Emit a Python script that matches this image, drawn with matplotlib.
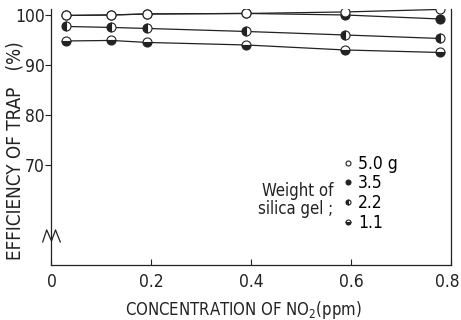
import matplotlib
matplotlib.use("Agg")
import matplotlib.pyplot as plt
from matplotlib.transforms import blended_transform_factory, ScaledTranslation

# ---- data ----
conc = [0.030, 0.120, 0.192, 0.389, 0.587, 0.777]
eff_50 = [99.9, 100.0, 100.2, 100.3, 100.6, 101.1]
eff_35 = [99.9, 100.0, 100.2, 100.3, 100.0, 99.2]
eff_22 = [97.7, 97.5, 97.3, 96.7, 96.0, 95.3]
eff_11 = [94.8, 94.9, 94.5, 94.0, 93.0, 92.5]
series_labels = ["5.0 g", "3.5", "2.2", "1.1"]
xticks = [0, 0.2, 0.4, 0.6, 0.8]
xticklabels = ["0", "0.2", "0.4", "0.6", "0.8"]
yticks = [70, 80, 90, 100]
yticklabels = ["70", "80", "90", "100"]

plt.rcParams['font.family'] = ['DejaVu Sans']
plt.rcParams['font.stretch'] = 'condensed'

fig = plt.figure(figsize=(4.61, 3.20), dpi=100)
ax = fig.add_axes([0.1117, 0.172, 0.8666, 0.800])

lc = '#222222'
common = dict(color=lc, lw=0.9, markersize=6.5, markeredgecolor=lc, markeredgewidth=0.8)
l11, = ax.plot(conc, eff_11, marker='o', fillstyle='bottom', markerfacecolor=lc,
               markerfacecoloralt='white', label=series_labels[3], zorder=3, **common)
l22, = ax.plot(conc, eff_22, marker='o', fillstyle='left', markerfacecolor=lc,
               markerfacecoloralt='white', label=series_labels[2], zorder=3, **common)
l35, = ax.plot(conc, eff_35, marker='o', markerfacecolor=lc, label=series_labels[1],
               zorder=3, **common)
l50, = ax.plot(conc, eff_50, marker='o', markerfacecolor='white', label=series_labels[0],
               zorder=4, **common)

ax.set_xlim(0, 0.8)
ax.set_ylim(50, 101.2)
ax.spines['top'].set_visible(False)
for s in ['left', 'right', 'bottom']:
    ax.spines[s].set_color(lc)
    ax.spines[s].set_linewidth(0.9)

ax.set_xticks(xticks)
ax.set_xticklabels(xticklabels, fontsize=12.5)
ax.set_yticks(yticks)
ax.set_yticklabels(yticklabels, fontsize=12.5)
ax.tick_params(axis='x', direction='in', length=4, width=0.8, pad=6, colors=lc)
ax.tick_params(axis='y', direction='out', length=4, width=0.8, pad=1, colors=lc)
# nudge last x tick label so it stays inside the figure
lab = ax.get_xticklabels()[-1]
lab.set_transform(lab.get_transform() + ScaledTranslation(-4 / 100, 0, fig.dpi_scale_trans))

# axis break mark
tr = blended_transform_factory(ax.transAxes, ax.transData)
ax.plot([-0.022, -0.012, 0.0, 0.010, 0.022], [54.6, 57.0, 54.8, 57.0, 54.6],
        transform=tr, color=lc, lw=0.9, clip_on=False)

fig.text(0.032, 0.53, "EFFICIENCY OF TRAP   (%)", rotation=90, ha='center', va='center',
         fontsize=13.5, color=lc)
fig.text(0.527, 0.03, "CONCENTRATION OF NO$_2$(ppm)", ha='center', va='center',
         fontsize=12, color=lc)

leg = ax.legend(handles=[l50, l35, l22, l11], loc='upper left', bbox_to_anchor=(0.72, 0.465),
                frameon=False, fontsize=12.5, handlelength=0, handletextpad=0.6,
                markerscale=0.55, labelspacing=0.1, borderpad=0)
for h in leg.legend_handles:
    h.set_linestyle('none')
ax.text(0.705, 0.255, "Weight of\nsilica gel ;", transform=ax.transAxes, ha='right',
        va='center', fontsize=12, color=lc, linespacing=1.0)

fig.savefig("out.png", dpi=100)
